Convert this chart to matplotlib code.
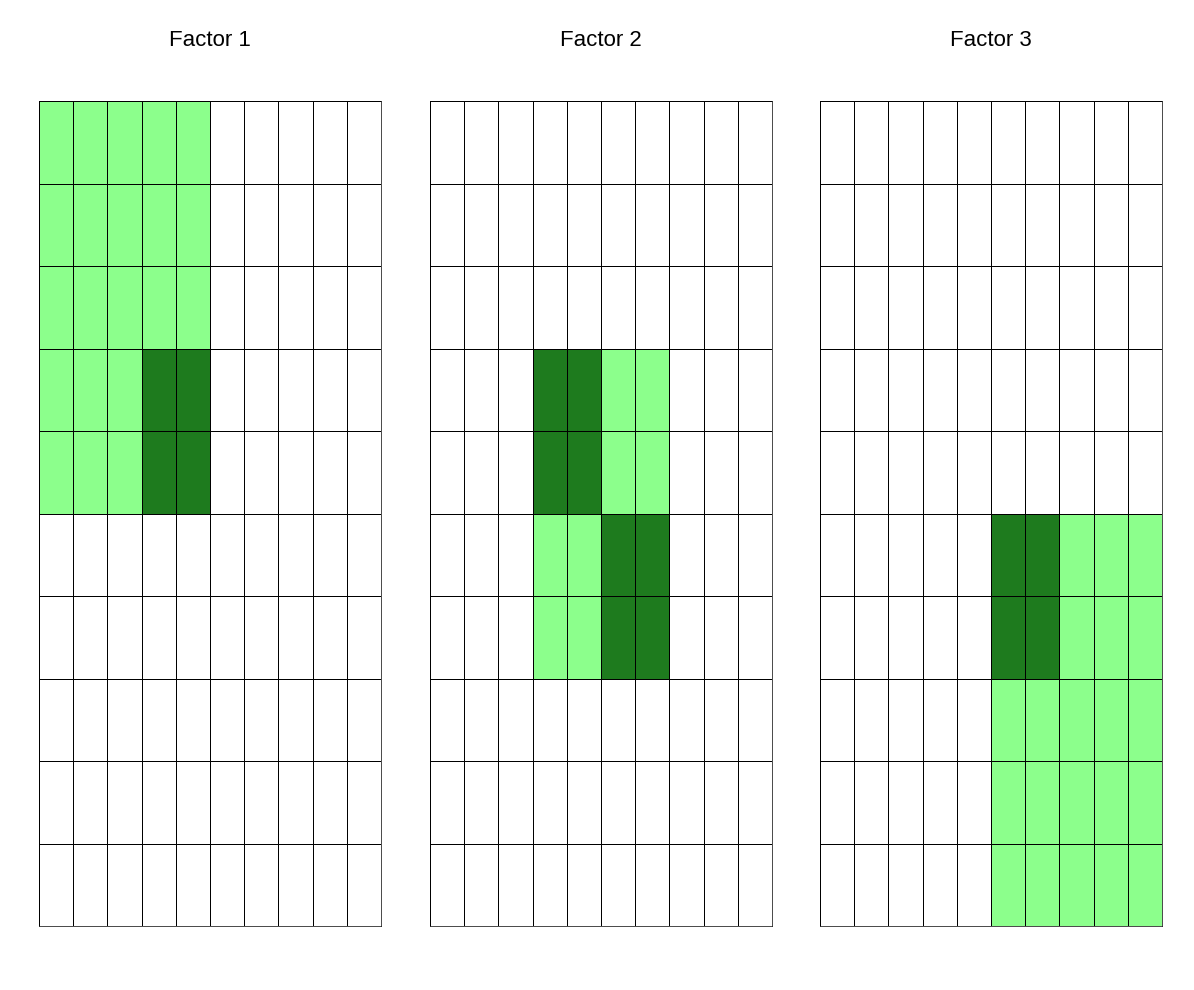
import numpy as np
import matplotlib
matplotlib.use("Agg")
import matplotlib.pyplot as plt
from matplotlib.colors import ListedColormap, BoundaryNorm

plt.rcParams.update({
    "font.family": ["Liberation Sans", "DejaVu Sans"],
})

# 0 = empty, 1 = light green, 2 = dark green ; rows listed top to bottom
titles = ["Factor 1", "Factor 2", "Factor 3"]

factor1 = [
    [1, 1, 1, 1, 1, 0, 0, 0, 0, 0],
    [1, 1, 1, 1, 1, 0, 0, 0, 0, 0],
    [1, 1, 1, 1, 1, 0, 0, 0, 0, 0],
    [1, 1, 1, 2, 2, 0, 0, 0, 0, 0],
    [1, 1, 1, 2, 2, 0, 0, 0, 0, 0],
    [0, 0, 0, 0, 0, 0, 0, 0, 0, 0],
    [0, 0, 0, 0, 0, 0, 0, 0, 0, 0],
    [0, 0, 0, 0, 0, 0, 0, 0, 0, 0],
    [0, 0, 0, 0, 0, 0, 0, 0, 0, 0],
    [0, 0, 0, 0, 0, 0, 0, 0, 0, 0],
]
factor2 = [
    [0, 0, 0, 0, 0, 0, 0, 0, 0, 0],
    [0, 0, 0, 0, 0, 0, 0, 0, 0, 0],
    [0, 0, 0, 0, 0, 0, 0, 0, 0, 0],
    [0, 0, 0, 2, 2, 1, 1, 0, 0, 0],
    [0, 0, 0, 2, 2, 1, 1, 0, 0, 0],
    [0, 0, 0, 1, 1, 2, 2, 0, 0, 0],
    [0, 0, 0, 1, 1, 2, 2, 0, 0, 0],
    [0, 0, 0, 0, 0, 0, 0, 0, 0, 0],
    [0, 0, 0, 0, 0, 0, 0, 0, 0, 0],
    [0, 0, 0, 0, 0, 0, 0, 0, 0, 0],
]
factor3 = [
    [0, 0, 0, 0, 0, 0, 0, 0, 0, 0],
    [0, 0, 0, 0, 0, 0, 0, 0, 0, 0],
    [0, 0, 0, 0, 0, 0, 0, 0, 0, 0],
    [0, 0, 0, 0, 0, 0, 0, 0, 0, 0],
    [0, 0, 0, 0, 0, 0, 0, 0, 0, 0],
    [0, 0, 0, 0, 0, 2, 2, 1, 1, 1],
    [0, 0, 0, 0, 0, 2, 2, 1, 1, 1],
    [0, 0, 0, 0, 0, 1, 1, 1, 1, 1],
    [0, 0, 0, 0, 0, 1, 1, 1, 1, 1],
    [0, 0, 0, 0, 0, 1, 1, 1, 1, 1],
]
factors = [factor1, factor2, factor3]

cmap = ListedColormap(["#FFFFFF", "#8CFF8C", "#1E7B1E"])
norm = BoundaryNorm([-0.5, 0.5, 1.5, 2.5], cmap.N)

fig = plt.figure(figsize=(11.94, 9.9), dpi=100)
lefts = [39, 430, 820]
for left, title, mat in zip(lefts, titles, factors):
    ax = fig.add_axes([left / 1194, 64 / 990, 342 / 1194, 825 / 990])
    z = np.array(mat)
    ax.pcolormesh(z, cmap=cmap, norm=norm, edgecolors="#000000", linewidth=0.5)
    ax.set_xlim(0, z.shape[1])
    ax.set_ylim(z.shape[0], 0)
    ax.set_xticks([])
    ax.set_yticks([])
    for s in ax.spines.values():
        s.set_linewidth(0.5)
        s.set_color("#000000")
    fig.text((left + 171) / 1194, 1 - 40 / 990, title, ha="center", va="center", fontsize=16)

fig.savefig("out.png", dpi=100, facecolor="white")
